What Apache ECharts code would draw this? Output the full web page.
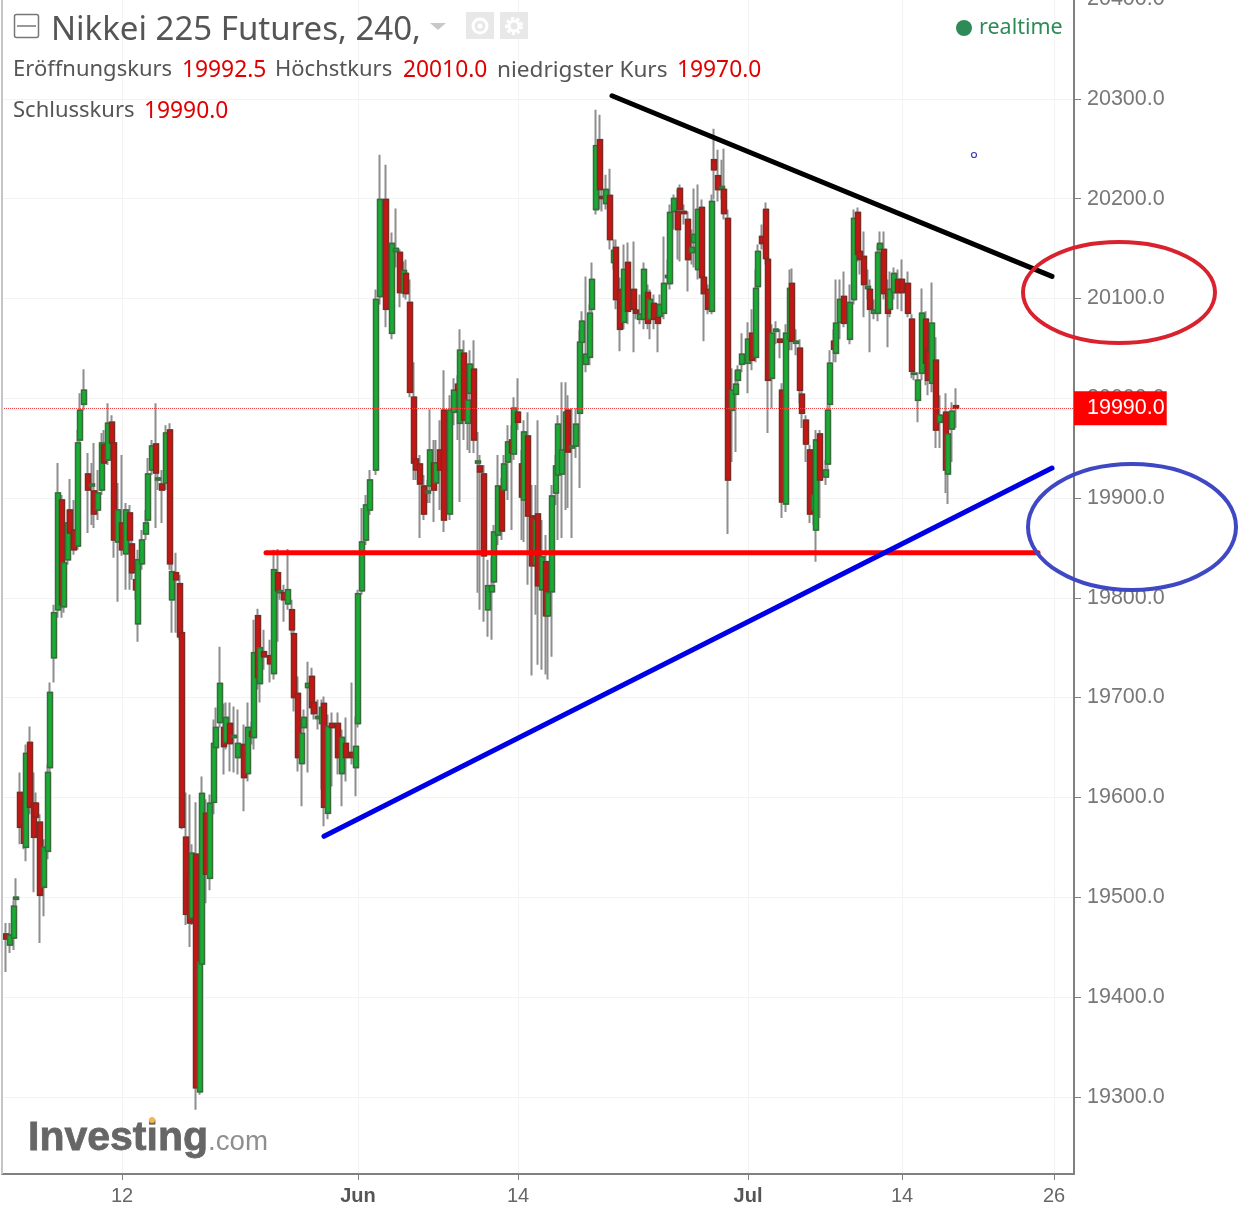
<!DOCTYPE html>
<html><head><meta charset="utf-8">
<style>html,body{margin:0;padding:0;background:#fff}#c{width:1258px;height:1209px}</style>
<script src="https://cdn.jsdelivr.net/npm/echarts@6/dist/echarts.min.js"></script></head>
<body><div id="c"></div>
<script>
// bars: [time slot, open, close, low, high]
const mayBars = [
[2,19463,19458,19425,19474],[4,19452,19462,19444,19474],[6,19459,19491,19447,19497],[7,19498,19500,19492,19519],
[9,19605,19570,19553,19625],[11,19573,19554,19548,19598],[12,19550,19644,19536,19653],[14,19655,19590,19583,19671],
[16,19594,19560,19505,19625],[17,19594,19580,19560,19605],[19,19575,19502,19454,19583],[21,19510,19550,19481,19558],
[23,19546,19625,19538,19633],[24,19630,19705,19623,19715],[26,19740,19785,19715,19793],[28,19788,19905,19780,19935],
[30,19898,19793,19780,19903],[31,19791,19835,19785,19848],[33,19838,19875,19833,19888],[34,19888,19865,19858,19919],
[36,19868,19848,19843,19898],[38,19852,19955,19848,19968],[39,19958,19988,19953,20005],[41,19994,20008,19988,20029],
[43,19924,19908,19865,19945],[45,19912,19914,19873,19935],[46,19907,19884,19870,19955],[48,19888,19905,19878,19928],
[50,19908,19955,19903,19965],[51,19953,19935,19928,19968],[53,19938,19975,19933,19995],[55,19976,19955,19950,19983],
[56,19955,19858,19840,19958],[58,19856,19888,19796,19915],[60,19875,19848,19842,19943],[62,19844,19888,19808,19895],
[64,19885,19858,19808,19893],[65,19854,19825,19818,19858],[67,19818,19808,19798,19823],[68,19774,19838,19756,19848],
[70,19834,19858,19828,19868],[72,19864,19875,19858,19888],[73,19878,19924,19868,19940],[75,19928,19952,19923,19958],
[77,19954,19925,19870,19995],[78,19918,19920,19908,19928],[80,19914,19908,19875,19928],[82,19915,19965,19908,19973],
[84,19968,19834,19828,19975],[85,19798,19826,19765,19843],[87,19825,19818,19765,19845],[89,19814,19761,19758,19823],
[90,19765,19570,19568,19768],[92,19560,19483,19472,19605],[94,19522,19474,19450,19603],[95,19479,19544,19472,19553],
[97,19543,19309,19287,19595],[99,19305,19435,19302,19442],[100,19433,19604,19427,19621],[102,19584,19523,19494,19598],
[104,19519,19594,19507,19603],[106,19595,19654,19583,19678],[107,19650,19670,19643,19690],[109,19675,19714,19670,19751],
[111,19670,19651,19623,19694],[112,19655,19680,19648,19695],[114,19674,19654,19626,19695],[116,19660,19662,19625,19691],
[118,19640,19654,19623,19688],[121,19653,19620,19586,19673],[123,19624,19670,19616,19695],[125,19666,19661,19653,19676],
[126,19660,19745,19648,19778],[128,19782,19720,19708,19789],[129,19714,19750,19695,19758],[131,19746,19741,19728,19768],
[134,19742,19734,19715,19758],[136,19724,19828,19718,19848],[138,19825,19807,19756,19849],[139,19805,19807,19798,19813],
[141,19805,19798,19776,19813],[143,19794,19808,19788,19849],[145,19788,19768,19763,19798],[146,19764,19700,19686,19768],
[148,19704,19640,19626,19721],[150,19634,19664,19591,19673],[151,19670,19680,19663,19688],[153,19710,19714,19625,19736],
[155,19721,19690,19683,19730],[156,19695,19684,19678,19703],[158,19679,19681,19668,19698],[160,19674,19690,19608,19698],
[161,19694,19590,19571,19701],[163,19584,19671,19578,19683],[165,19674,19670,19611,19685],[168,19674,19640,19623,19685],
[170,19624,19660,19591,19668],[172,19654,19640,19616,19680],[175,19645,19640,19633,19715],[177,19630,19651,19601,19681]
];
const juneBars = [
[178,19674,19804,19670,19808],[180,19807,19856,19803,19890],[182,19858,19893,19853,19903],[184,19888,19918,19883,19928],
[187,19928,20099,19923,20109],[189,20102,20199,20094,20244],[192,20199,20089,20071,20234],[195,20065,20155,20059,20166],
[197,20147,20150,20131,20190],[199,20146,20106,20091,20149],[201,20106,20128,20101,20137],[202,20125,20105,20099,20139],
[204,20096,20006,20001,20119],[206,20001,19935,19918,20036],[207,19939,19928,19918,19943],[209,19934,19914,19860,19943],
[211,19912,19884,19878,19923],[213,19905,19907,19895,19918],[214,19912,19948,19895,19989],[216,19935,19908,19876,19958],
[217,19915,19935,19908,19958],[219,19948,19928,19888,19978],[221,19988,19878,19866,20028],[224,19884,19988,19878,20003],
[226,19986,20008,19973,20020],[228,20014,20008,19958,20023],[229,19975,20048,19896,20069],[231,20045,19978,19958,20058],
[233,19975,19998,19948,20023],[234,20005,20034,19945,20048],[236,20029,19958,19945,20058],[238,19935,19937,19805,19966],
[239,19932,19926,19788,19943],[241,19924,19842,19776,19933],[243,19788,19812,19761,19838],[245,19806,19812,19758,19840],
[246,19816,19866,19808,19873],[248,19863,19912,19853,19943],[250,19911,19867,19858,19920],[251,19908,19934,19883,19943],
[253,19936,19956,19898,19973],[255,19958,19945,19868,19973],[256,19944,19990,19938,20001],[258,19986,19976,19968,20020],
[260,19934,19901,19858,19948],[261,19898,19966,19856,19978],[263,19962,19882,19813,19986],[265,19882,19832,19722,19913],
[267,19833,19878,19783,19913],[268,19884,19812,19733,19978],[270,19808,19841,19728,19878],[272,19836,19782,19723,19863],
[273,19782,19805,19718,19813],[275,19806,19902,19741,19913],[277,19905,19932,19893,19943],[278,19923,19974,19858,19983],
[280,19924,19948,19860,20016],[282,19948,19986,19888,20016],[283,19988,19946,19890,20003],[285,19950,19952,19860,19990],
[287,19952,19974,19940,19990],[289,19985,20056,19910,20068],[290,20056,20077,20050,20087],[292,20034,20044,20026,20122],
[294,20041,20085,20033,20094],[295,20089,20119,20084,20136],[297,20189,20253,20184,20289],[299,20259,20209,20189,20284],
[300,20202,20200,20187,20209],[302,20195,20209,20189,20224],[304,20203,20159,20149,20230],[306,20136,20148,20129,20159],
[307,20151,20099,20089,20159],[309,20109,20069,20047,20121],[311,20076,20129,20069,20154],[313,20136,20087,20074,20156],
[316,20109,20089,20046,20157],[317,20088,20085,20079,20099],[319,20079,20084,20074,20104],[321,20079,20129,20069,20136],
[323,20106,20075,20069,20114],[324,20079,20099,20059,20109],[326,20095,20079,20069,20104],[328,20081,20075,20046,20089],
[329,20082,20094,20074,20104],[331,20085,20115,20079,20162],[333,20121,20123,20114,20139],[334,20115,20186,20109,20194],
[336,20187,20200,20169,20204],[338,20187,20169,20139,20209],[339,20210,20189,20137,20214],[341,20187,20185,20174,20194],
[343,20179,20139,20107,20187],[345,20146,20151,20134,20169],[346,20156,20164,20131,20210],[348,20129,20189,20119,20214],
[350,20191,20121,20104,20199],[351,20121,20105,20057,20129],[353,20109,20089,20084,20114],[355,20087,20197,20084,20204],
[356,20239,20229,20199,20270],[358,20223,20209,20197,20249],[360,20210,20212,20199,20239],[361,20209,20185,20179,20250],
[363,20180,19918,19864,20189],[365,19988,20008,19936,20030],[367,20004,20014,19946,20028],[368,20018,20028,20008,20033],
[370,20034,20044,20026,20065]
];
const julyBars = [
[373,20035,20059,20005,20076],[375,20065,20038,20028,20089],[377,20041,20110,20036,20129],[378,20112,20147,20104,20154],
[380,20162,20155,20149,20174],[382,20189,20140,20134,20196],[383,20139,20018,19965,20144],[385,20020,20065,19990,20074],
[387,20067,20069,20054,20077],[389,20059,20056,20040,20069],[390,20008,19896,19880,20015],[392,19894,20065,19886,20074],
[394,20059,20110,20048,20129],[395,20115,20057,20048,20130],[397,20055,20057,20043,20069],[399,20050,20008,19995,20059],
[400,20004,19985,19970,20010],[402,19978,19954,19936,19983],[404,19948,19884,19875,19953],[406,19888,19903,19873,19918],
[407,19868,19958,19836,19968],[409,19964,19918,19880,19968],[412,19921,19928,19913,19938],[413,19934,19988,19926,19993],
[414,19994,20035,19988,20048],[416,20057,20049,20036,20069],[417,20045,20075,20036,20119],[419,20076,20099,20059,20119],
[421,20102,20075,20071,20127],[424,20059,20096,20054,20114],[426,20099,20180,20094,20189],[428,20186,20144,20137,20191],
[429,20147,20139,20124,20154],[431,20142,20114,20081,20167],[433,20110,20112,20099,20129],[434,20109,20089,20046,20119],
[436,20085,20088,20079,20099],[438,20085,20146,20077,20154],[439,20149,20155,20139,20167],[441,20149,20105,20099,20167],
[443,20109,20085,20051,20119],[444,20089,20109,20081,20127],[446,20106,20125,20099,20131],[448,20119,20106,20089,20129],
[450,20119,20106,20087,20139],[453,20115,20085,20081,20127],[455,20079,20027,20020,20084],[456,20024,20025,20018,20028],
[458,19998,20018,19976,20026],[460,20025,20085,20018,20110],[462,20079,20035,20013,20087],[463,20048,20018,20003,20059],
[465,20015,20075,20006,20116],[467,20038,19968,19950,20061],[469,19976,19983,19950,20003],[472,19986,19928,19905,20005],
[473,19924,19964,19894,19973],[475,19969,19987,19936,19996],[477,19992.5,19990,19970,20010]
];
const slotCount = 537;
const timeTicks = {60:'12',178:'Jun',258:'14',373:'Jul',450:'14',526:'26'};
const priceTicks = [19300,19400,19500,19600,19700,19800,19900,20000,20100,20200,20300,20400];
const resistanceLine = [[305,20303],[525,20122]];
const supportLine = [[161,19561],[525,19930]];
const levelLine = [[132,19845],[518,19845]];
const lastPrice = 19990;

const bars = mayBars.concat(juneBars, julyBars);
const bodies = bars.map(b => [b[0], b[1], b[2], Math.min(b[1], b[2]), Math.max(b[1], b[2])]);
const categories = Array.from({length: slotCount}, (_, i) => timeTicks[i] || '');
const isTick = i => timeTicks[i] !== undefined;
const sans = '"Liberation Sans", Arial, sans-serif';
const ui = '"Noto Sans", sans-serif';

const chart = echarts.init(document.getElementById('c'), null, {renderer: 'canvas'});
const overlay = (data, color, w) => ({
  type: 'line', data, symbol: 'none', silent: true, z: 6, animation: false,
  lineStyle: {color, width: w, cap: 'round'}
});
const txt = (x, y, text, font, fill) => ({type: 'text', z: 10, x, y, style: {text, font, fill}});
chart.setOption({
  animation: false,
  backgroundColor: '#fff',
  grid: {left: 2, right: 184, top: -1, bottom: 35, containLabel: false, outerBoundsMode: 'none'},
  dataset: [
    {source: bars, sourceHeader: false},
    {source: bodies, sourceHeader: false}
  ],
  xAxis: {
    type: 'category', data: categories, boundaryGap: false,
    axisLine: {lineStyle: {color: '#808080', width: 2}},
    axisTick: {interval: isTick, length: 6, lineStyle: {color: '#808080', width: 1}},
    splitLine: {show: true, interval: isTick, lineStyle: {color: '#f3f3f3', width: 1}},
    axisLabel: {
      interval: isTick, margin: 12, fontSize: 20, color: '#666', fontFamily: sans,
      formatter: v => /[a-z]/i.test(v) ? '{b|' + v + '}' : v,
      rich: {b: {fontWeight: 'bold', fontSize: 20, color: '#555', fontFamily: sans}}
    }
  },
  yAxis: {
    type: 'value', position: 'right', min: 19222.6, max: 20400, scale: true,
    axisLine: {show: true, lineStyle: {color: '#808080', width: 2}},
    axisTick: {show: true, length: 7, customValues: priceTicks, lineStyle: {color: '#808080', width: 1}},
    splitLine: {show: true, lineStyle: {color: '#f3f3f3', width: 1}},
    axisLabel: {customValues: priceTicks, margin: 13, fontSize: 21.5, color: '#777', fontFamily: sans,
      padding: [3, 0, 0, 0], formatter: v => v.toFixed(1)}
  },
  series: [
    {
      type: 'candlestick', datasetIndex: 0, encode: {x: 0, y: [1, 2, 3, 4]}, barWidth: 4, z: 2,
      silent: true, progressive: 0, large: false,
      itemStyle: {color: 'rgba(0,0,0,0)', color0: 'rgba(0,0,0,0)', borderColor: '#8e8e8e', borderColor0: '#8e8e8e', borderWidth: 2}
    },
    {
      type: 'candlestick', datasetIndex: 1, encode: {x: 0, y: [1, 2, 3, 4]}, barWidth: 5, z: 3,
      silent: true, progressive: 0, large: false,
      itemStyle: {color: '#17ad33', color0: '#c91414', borderColor: '#3b6a3c', borderColor0: '#7a2c22', borderWidth: 1.5}
    },
    {
      type: 'line', data: [], silent: true, z: 4,
      markLine: {
        silent: true, symbol: 'none', animation: false,
        lineStyle: {type: 'dotted', color: '#f04040', width: 1},
        label: {position: 'end', distance: 0, formatter: lastPrice.toFixed(1), color: '#fff', fontSize: 21.5,
          fontFamily: sans, backgroundColor: '#ff0000', padding: [7, 2, 5, 13]},
        data: [{yAxis: lastPrice}]
      }
    },
    overlay(levelLine, '#ff0000', 5),
    overlay(resistanceLine, '#000000', 5),
    overlay(supportLine, '#0000e6', 5)
  ],
  graphic: [
    {type: 'rect', z: 10, shape: {x: 1, y: 0, width: 2, height: 1174}, style: {fill: '#c6c6ca'}},
    {type: 'rect', z: 10, shape: {x: 14.5, y: 14.5, width: 24, height: 23, r: 2}, style: {fill: '#fff', stroke: '#777', lineWidth: 1.5}},
    {type: 'line', z: 10, shape: {x1: 17, y1: 26, x2: 36, y2: 26}, style: {stroke: '#777', lineWidth: 1.5}},
    txt(51, 14, 'Nikkei 225 Futures, 240,', '33px ' + ui, '#555'),
    {type: 'polygon', z: 10, shape: {points: [[430, 23], [446, 23], [438, 30]]}, style: {fill: '#c8c8c8'}},
    {type: 'rect', z: 10, shape: {x: 466, y: 12, width: 28, height: 27}, style: {fill: '#e8e8e8'}},
    {type: 'circle', z: 11, shape: {cx: 480, cy: 26, r: 7}, style: {fill: 'none', stroke: '#fff', lineWidth: 3}},
    {type: 'circle', z: 11, shape: {cx: 480, cy: 26, r: 2.5}, style: {fill: '#fff'}},
    {type: 'rect', z: 10, shape: {x: 500, y: 12, width: 28, height: 27}, style: {fill: '#e8e8e8'}},
    {type: 'circle', z: 11, shape: {cx: 514, cy: 26, r: 7}, style: {fill: 'none', stroke: '#fff', lineWidth: 4, lineDash: [3, 2]}},
    {type: 'circle', z: 11, shape: {cx: 514, cy: 26, r: 5}, style: {fill: 'none', stroke: '#fff', lineWidth: 3}},
    txt(13, 59, 'Eröffnungskurs', '22px ' + ui, '#555'),
    txt(182, 59, '19992.5', '22.8px ' + ui, '#e00000'),
    txt(275, 59, 'Höchstkurs', '22px ' + ui, '#555'),
    txt(403, 59, '20010.0', '22.8px ' + ui, '#e00000'),
    txt(497, 59, 'niedrigster Kurs', '22.6px ' + ui, '#555'),
    txt(677, 59, '19970.0', '22.8px ' + ui, '#e00000'),
    txt(13, 100, 'Schlusskurs', '22px ' + ui, '#555'),
    txt(144, 100, '19990.0', '22.8px ' + ui, '#e00000'),
    {type: 'circle', z: 10, shape: {cx: 964, cy: 28, r: 8}, style: {fill: '#2e8b57'}},
    txt(979, 17, 'realtime', '21.5px ' + ui, '#2e8b57'),
    {type: 'circle', z: 10, shape: {cx: 974, cy: 155, r: 2.5}, style: {fill: '#fff', stroke: '#3a3fb0', lineWidth: 1.2}},
    {type: 'ellipse', z: 12, shape: {cx: 1119, cy: 292.5, rx: 96, ry: 50.5}, style: {fill: 'none', stroke: '#d9222e', lineWidth: 4}},
    {type: 'ellipse', z: 12, shape: {cx: 1132, cy: 527, rx: 104, ry: 63}, style: {fill: 'none', stroke: '#3f48c4', lineWidth: 4}},
    {type: 'text', z: 1, x: 28, y: 1118, style: {text: 'Investing', font: 'bold 41px ' + sans, fill: '#666', stroke: '#666', lineWidth: 0.8}},
    {type: 'text', z: 1, x: 208, y: 1128, style: {text: '.com', font: '27.7px ' + sans, fill: '#8f8f8f'}},
    {type: 'circle', z: 1, shape: {cx: 152, cy: 1120, r: 3}, style: {fill: '#f6b64c'}}
  ]
});
</script></body></html>
